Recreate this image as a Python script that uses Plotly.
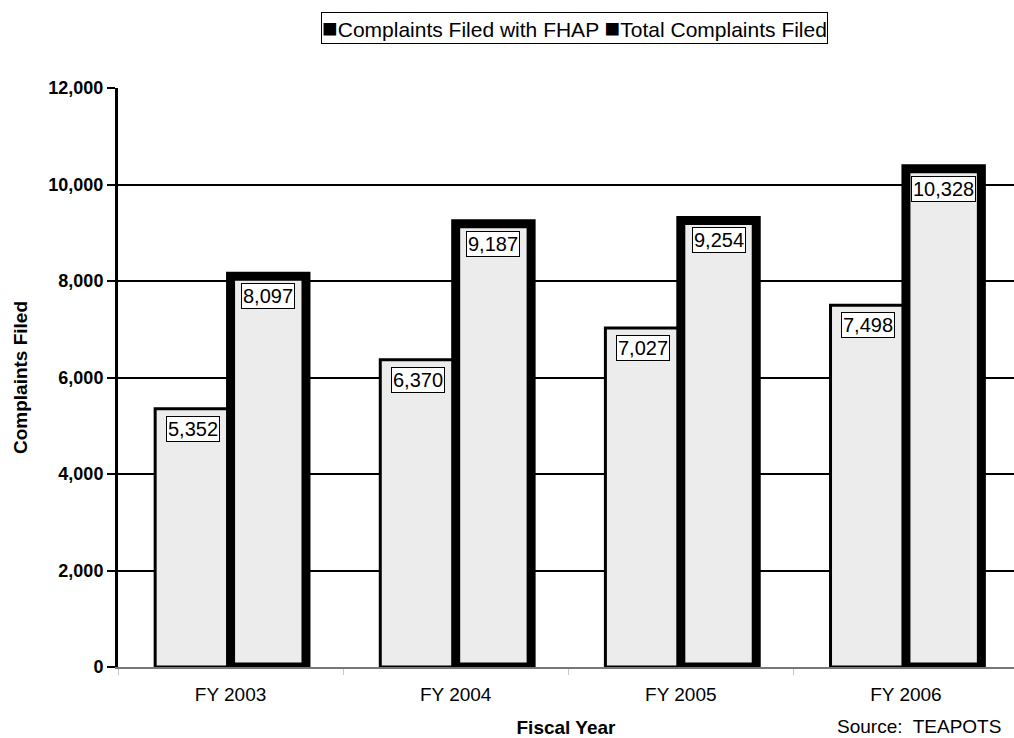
import plotly.graph_objects as go

# Complaints filed by fiscal year
years = ["FY 2003", "FY 2004", "FY 2005", "FY 2006"]
fhap_complaints = [5352, 6370, 7027, 7498]
total_complaints = [8097, 9187, 9254, 10328]

y_ticks = [0, 2000, 4000, 6000, 8000, 10000, 12000]
y_tick_text = ["0", "2,000", "4,000", "6,000", "8,000", "10,000", "12,000"]

FONT = "Liberation Sans, Arial, sans-serif"
BAR_GAP = 0.33
BAR_FILL = "#ececec"

fig = go.Figure()
fig.add_trace(go.Bar(
    x=years, y=fhap_complaints, name="Complaints Filed with FHAP",
    marker=dict(color=BAR_FILL, line=dict(color="black", width=3)),
    showlegend=False,
))
fig.add_trace(go.Bar(
    x=years, y=total_complaints, name="Total Complaints Filed",
    marker=dict(color=BAR_FILL, line=dict(color="black", width=9)),
    showlegend=False,
))

# boxed value labels just under the top of each bar
bar_w = (1 - BAR_GAP) / 2
annotations = []
for i in range(len(years)):
    for offset, val in ((-bar_w / 2, fhap_complaints[i]), (bar_w / 2, total_complaints[i])):
        annotations.append(dict(
            x=i + offset, y=val, xref="x", yref="y",
            text=f"{val:,}", showarrow=False,
            xanchor="center", yanchor="top", yshift=-7,
            font=dict(family=FONT, size=20, color="black"),
            bgcolor="white", bordercolor="black", borderwidth=1, borderpad=1,
        ))

# legend box across the top
square = '<span style="font-size:26px">■</span>'
annotations.append(dict(
    x=0.509, y=1.1036, xref="paper", yref="paper",
    text=f"{square}Complaints Filed with FHAP {square}Total Complaints Filed",
    showarrow=False, xanchor="center", yanchor="middle",
    font=dict(family=FONT, size=21, color="black"),
    bgcolor="white", bordercolor="black", borderwidth=1, borderpad=0,
))

# data source note
annotations.append(dict(
    x=0.80, y=-0.1036, xref="paper", yref="paper",
    text="Source:  TEAPOTS", showarrow=False,
    xanchor="left", yanchor="middle",
    font=dict(family=FONT, size=19, color="black"),
))

fig.update_layout(
    width=1014, height=738,
    margin=dict(l=118, r=0, t=88, b=71),
    paper_bgcolor="white", plot_bgcolor="white",
    barmode="group", bargap=BAR_GAP, bargroupgap=0,
    font=dict(family=FONT, color="black"),
    annotations=annotations,
    xaxis=dict(
        type="category", range=[-0.5, 3.48],
        showline=True, linecolor="#777777", linewidth=1.5,
        ticks="outside", tickson="boundaries", ticklen=6,
        tickcolor="#c8c8c8", tickwidth=1,
        ticklabelstandoff=9,
        showgrid=False,
        tickfont=dict(family=FONT, size=19, color="black"),
        title=dict(text="<b>Fiscal Year</b>", font=dict(family=FONT, size=19, color="black"),
                   standoff=20),
    ),
    yaxis=dict(
        range=[0, 12000], tickvals=y_ticks, ticktext=y_tick_text,
        showline=True, linecolor="black", linewidth=3,
        ticks="outside", ticklen=8, tickcolor="black", tickwidth=1.5,
        showgrid=True, gridcolor="black", gridwidth=1.5,
        zeroline=False,
        tickfont=dict(family=FONT, size=18, color="black", weight="bold"),
        title=dict(text="<b>Complaints Filed</b>", font=dict(family=FONT, size=19, color="black"),
                   standoff=16),
    ),
)

fig.write_html("out.html")
